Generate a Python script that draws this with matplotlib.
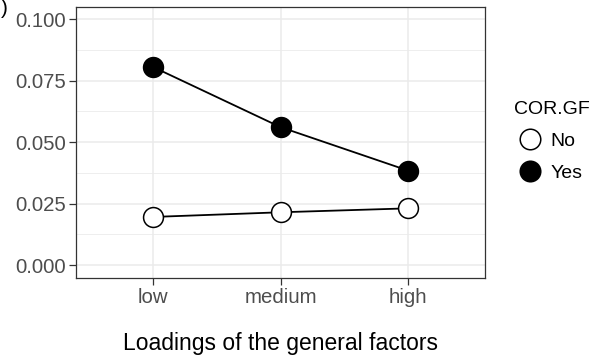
import matplotlib
matplotlib.use("Agg")
import matplotlib.pyplot as plt
from matplotlib.lines import Line2D

plt.rcParams['font.family'] = ['Liberation Sans', 'DejaVu Sans']

# data
loadings = ['low', 'medium', 'high']
cor_no = [0.0196, 0.0215, 0.0231]
cor_yes = [0.0806, 0.0561, 0.0384]
y_ticks = [0.000, 0.025, 0.050, 0.075, 0.100]
y_tick_labels = ['0.000', '0.025', '0.050', '0.075', '0.100']

W, H = 603, 358
fig = plt.figure(figsize=(W / 100, H / 100), dpi=100)
ax = fig.add_axes([76 / W, (H - 278) / H, (485 - 76) / W, (278 - 7) / H])

x = list(range(len(loadings)))

# grid (theme_bw style)
for v in y_ticks:
    ax.axhline(v, color='#EBEBEB', lw=1.1, zorder=0)
for v in [0.0125, 0.0375, 0.0625, 0.0875]:
    ax.axhline(v, color='#EBEBEB', lw=0.6, zorder=0)
for v in x:
    ax.axvline(v, color='#EBEBEB', lw=1.1, zorder=0)

ax.plot(x, cor_no, color='black', lw=1.3, zorder=2)
ax.plot(x, cor_yes, color='black', lw=1.3, zorder=2)
ax.plot(x, cor_no, ls='none', marker='o', ms=14.3, mfc='white', mec='black', mew=1.1, zorder=3)
ax.plot(x, cor_yes, ls='none', marker='o', ms=14.3, mfc='black', mec='black', mew=1.1, zorder=3)

ax.set_xlim(-0.6, 2.6)
ax.set_ylim(-0.0052, 0.1049)
ax.set_xticks(x)
ax.set_xticklabels(loadings)
ax.set_yticks(y_ticks)
ax.set_yticklabels(y_tick_labels)
ax.tick_params(axis='both', colors='#333333', labelcolor='#4D4D4D', labelsize=14.7, length=5, width=0.9, pad=2.5)
for s in ax.spines.values():
    s.set_color('#333333')
    s.set_linewidth(0.9)

ax.set_xlabel('Loadings of the general factors', fontsize=16.5, labelpad=18, color='black')

# legend
handles = [
    Line2D([], [], ls='none', marker='o', ms=14.8, mfc='white', mec='black', mew=1.1),
    Line2D([], [], ls='none', marker='o', ms=14.8, mfc='black', mec='black', mew=1.1),
]
leg = fig.legend(handles, ['No', 'Yes'], title='COR.GF', loc='upper left',
                 bbox_to_anchor=(504 / W, (H - 91) / H), frameon=False,
                 fontsize=14, title_fontsize=14, handletextpad=0.26,
                 labelspacing=0.75, borderpad=0, handlelength=1.65,
                 alignment='left')

# panel label, only its closing bracket is visible in the frame
fig.text(1 / W, (H + 1) / H, ')', fontsize=15, ha='left', va='top')

fig.savefig('out.png', dpi=100)
